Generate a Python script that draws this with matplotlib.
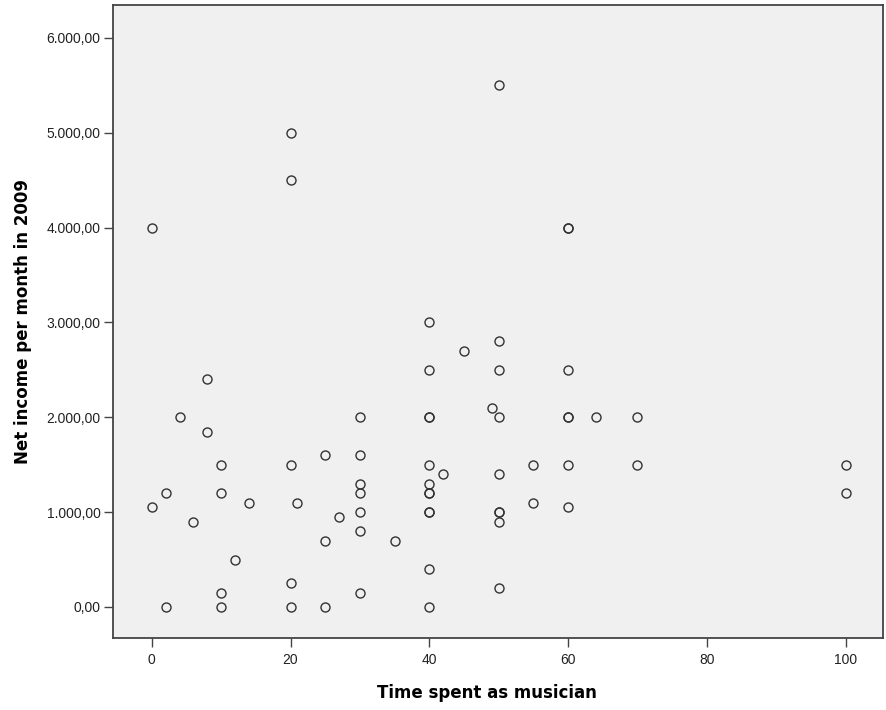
import matplotlib.pyplot as plt
from matplotlib.ticker import FuncFormatter

X_TITLE = "Time spent as musician"
Y_TITLE = "Net income per month in 2009"

# hours spent as musician / net income (repeats = overlapping markers)
time_spent = [
    0, 0, 2, 2, 4, 6, 8, 8, 10, 10, 10, 10, 12, 14,
    20, 20, 20, 20, 20, 21, 25, 25, 25, 27,
    30, 30, 30, 30, 30, 30, 30, 35,
    40, 40, 40, 40, 40, 40, 40, 40, 40, 40, 40, 40, 42, 45, 49,
    50, 50, 50, 50, 50, 50, 50, 50, 50, 55, 55,
    60, 60, 60, 60, 60, 60, 60, 64, 70, 70, 100, 100,
]
net_income = [
    4000, 1050, 1200, 0, 2000, 900, 2400, 1850, 1500, 1200, 150, 0, 500, 1100,
    5000, 4500, 1500, 250, 0, 1100, 1600, 700, 0, 950,
    2000, 1600, 1300, 1200, 1000, 800, 150, 700,
    3000, 2500, 2000, 2000, 1500, 1300, 1200, 1200, 1000, 1000, 400, 0, 1400, 2700, 2100,
    5500, 2800, 2500, 2000, 1400, 1000, 1000, 900, 200, 1500, 1100,
    4000, 4000, 2500, 2000, 2000, 1500, 1050, 2000, 2000, 1500, 1500, 1200,
]

x_ticks = [0, 20, 40, 60, 80, 100]
y_ticks = [0, 1000, 2000, 3000, 4000, 5000, 6000]


def euro_format(v, _pos):
    s = "{:,.2f}".format(v)
    return s.replace(",", "X").replace(".", ",").replace("X", ".")


plt.rcParams["font.family"] = ["Liberation Sans", "DejaVu Sans"]

fig = plt.figure(figsize=(8.86, 7.10), dpi=100)
ax = fig.add_axes([0.1275, 0.1014, 0.8691, 0.8916])
ax.set_facecolor("#f0f0f0")

ax.plot(time_spent, net_income, linestyle="none", marker="o", markersize=6.5,
        markerfacecolor="none", markeredgecolor="#333333", markeredgewidth=1.0)

ax.set_xlim(-5.6, 105.4)
ax.set_ylim(-327, 6348)
ax.set_xticks(x_ticks)
ax.set_yticks(y_ticks)
ax.yaxis.set_major_formatter(FuncFormatter(euro_format))

for sp in ax.spines.values():
    sp.set_color("#444444")
    sp.set_linewidth(1.3)
ax.tick_params(axis="both", direction="out", length=6.5, width=1.0,
               color="#444444", labelsize=10, labelcolor="#222222")
ax.tick_params(axis="x", pad=4)
ax.tick_params(axis="y", pad=2.5)

ax.set_xlabel(X_TITLE, fontsize=12, fontweight="bold", family="DejaVu Sans")
ax.set_ylabel(Y_TITLE, fontsize=12, fontweight="bold", family="DejaVu Sans", labelpad=10)
ax.xaxis.set_label_coords(0.486, -0.072)

fig.savefig("out.png", dpi=100)
